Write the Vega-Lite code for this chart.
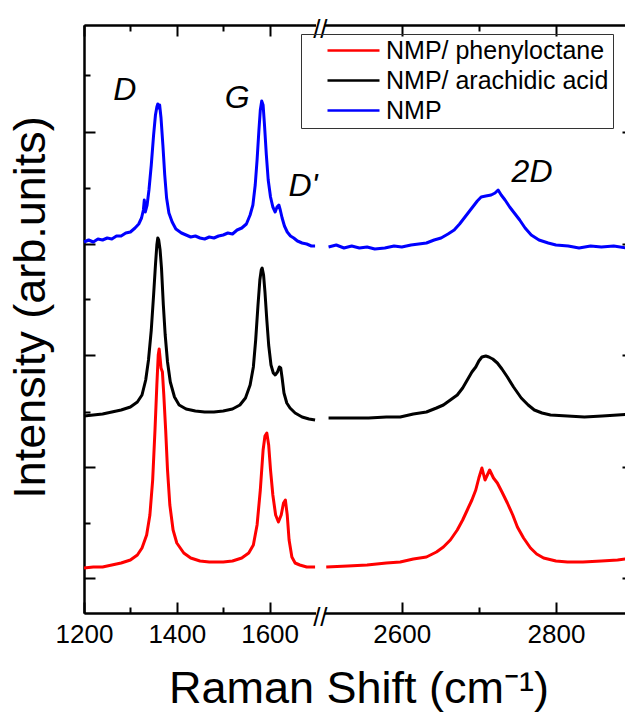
{
"$schema": "https://vega.github.io/schema/vega-lite/v6.json",
"width": 549, "height": 588,
"autosize": {"type": "none"},
"padding": {"left": 84, "top": 25, "right": -8, "bottom": 107},
"config": {
 "view": {"stroke": null},
 "font": "Liberation Sans",
 "axis": {"domainColor": "black", "domainWidth": 2, "tickColor": "black", "tickWidth": 2, "labelColor": "black", "titleColor": "black", "titleFontWeight": "normal", "grid": false, "labelFont": "Liberation Sans", "titleFont": "Liberation Sans", "labelFlush": false, "labelOverlap": false, "labelBound": false, "format": "d"}
},
"datasets": {
 "spec": [
 {"s":"NMP/ phenyloctane","g":"L","x":1200,"y":45},{"s":"NMP/ phenyloctane","g":"L","x":1220,"y":46},{"s":"NMP/ phenyloctane","g":"L","x":1240,"y":46},{"s":"NMP/ phenyloctane","g":"L","x":1260,"y":48},{"s":"NMP/ phenyloctane","g":"L","x":1280,"y":50},{"s":"NMP/ phenyloctane","g":"L","x":1300,"y":53},{"s":"NMP/ phenyloctane","g":"L","x":1315,"y":58},{"s":"NMP/ phenyloctane","g":"L","x":1325,"y":65},{"s":"NMP/ phenyloctane","g":"L","x":1335,"y":78},{"s":"NMP/ phenyloctane","g":"L","x":1342,"y":98},{"s":"NMP/ phenyloctane","g":"L","x":1348,"y":133},{"s":"NMP/ phenyloctane","g":"L","x":1353,"y":183},{"s":"NMP/ phenyloctane","g":"L","x":1357,"y":228},{"s":"NMP/ phenyloctane","g":"L","x":1360,"y":258},{"s":"NMP/ phenyloctane","g":"L","x":1362,"y":264},{"s":"NMP/ phenyloctane","g":"L","x":1364,"y":255},{"s":"NMP/ phenyloctane","g":"L","x":1366,"y":245},{"s":"NMP/ phenyloctane","g":"L","x":1369,"y":241},{"s":"NMP/ phenyloctane","g":"L","x":1372,"y":218},{"s":"NMP/ phenyloctane","g":"L","x":1376,"y":183},{"s":"NMP/ phenyloctane","g":"L","x":1380,"y":143},{"s":"NMP/ phenyloctane","g":"L","x":1385,"y":108},{"s":"NMP/ phenyloctane","g":"L","x":1392,"y":83},{"s":"NMP/ phenyloctane","g":"L","x":1400,"y":70},{"s":"NMP/ phenyloctane","g":"L","x":1415,"y":60},{"s":"NMP/ phenyloctane","g":"L","x":1430,"y":55},{"s":"NMP/ phenyloctane","g":"L","x":1450,"y":52},{"s":"NMP/ phenyloctane","g":"L","x":1470,"y":51},{"s":"NMP/ phenyloctane","g":"L","x":1500,"y":51},{"s":"NMP/ phenyloctane","g":"L","x":1520,"y":52},{"s":"NMP/ phenyloctane","g":"L","x":1540,"y":55},{"s":"NMP/ phenyloctane","g":"L","x":1555,"y":60},{"s":"NMP/ phenyloctane","g":"L","x":1565,"y":68},{"s":"NMP/ phenyloctane","g":"L","x":1573,"y":88},{"s":"NMP/ phenyloctane","g":"L","x":1580,"y":123},{"s":"NMP/ phenyloctane","g":"L","x":1586,"y":163},{"s":"NMP/ phenyloctane","g":"L","x":1590,"y":177},{"s":"NMP/ phenyloctane","g":"L","x":1594,"y":180},{"s":"NMP/ phenyloctane","g":"L","x":1598,"y":168},{"s":"NMP/ phenyloctane","g":"L","x":1602,"y":143},{"s":"NMP/ phenyloctane","g":"L","x":1607,"y":118},{"s":"NMP/ phenyloctane","g":"L","x":1613,"y":98},{"s":"NMP/ phenyloctane","g":"L","x":1619,"y":91},{"s":"NMP/ phenyloctane","g":"L","x":1625,"y":98},{"s":"NMP/ phenyloctane","g":"L","x":1630,"y":110},{"s":"NMP/ phenyloctane","g":"L","x":1634,"y":113},{"s":"NMP/ phenyloctane","g":"L","x":1638,"y":98},{"s":"NMP/ phenyloctane","g":"L","x":1642,"y":73},{"s":"NMP/ phenyloctane","g":"L","x":1648,"y":56},{"s":"NMP/ phenyloctane","g":"L","x":1655,"y":50},{"s":"NMP/ phenyloctane","g":"L","x":1665,"y":48},{"s":"NMP/ phenyloctane","g":"L","x":1680,"y":46},{"s":"NMP/ phenyloctane","g":"L","x":1698,"y":46},
 {"s":"NMP/ phenyloctane","g":"R","x":2502,"y":46},{"s":"NMP/ phenyloctane","g":"R","x":2530,"y":47},{"s":"NMP/ phenyloctane","g":"R","x":2555,"y":48},{"s":"NMP/ phenyloctane","g":"R","x":2580,"y":50},{"s":"NMP/ phenyloctane","g":"R","x":2598,"y":51},{"s":"NMP/ phenyloctane","g":"R","x":2615,"y":54},{"s":"NMP/ phenyloctane","g":"R","x":2632,"y":56},{"s":"NMP/ phenyloctane","g":"R","x":2645,"y":61},{"s":"NMP/ phenyloctane","g":"R","x":2654,"y":66},{"s":"NMP/ phenyloctane","g":"R","x":2663,"y":73},{"s":"NMP/ phenyloctane","g":"R","x":2672,"y":83},{"s":"NMP/ phenyloctane","g":"R","x":2679,"y":93},{"s":"NMP/ phenyloctane","g":"R","x":2685,"y":103},{"s":"NMP/ phenyloctane","g":"R","x":2691,"y":113},{"s":"NMP/ phenyloctane","g":"R","x":2696,"y":123},{"s":"NMP/ phenyloctane","g":"R","x":2700,"y":135},{"s":"NMP/ phenyloctane","g":"R","x":2704,"y":145},{"s":"NMP/ phenyloctane","g":"R","x":2708,"y":133},{"s":"NMP/ phenyloctane","g":"R","x":2711,"y":138},{"s":"NMP/ phenyloctane","g":"R","x":2714,"y":143},{"s":"NMP/ phenyloctane","g":"R","x":2719,"y":135},{"s":"NMP/ phenyloctane","g":"R","x":2724,"y":130},{"s":"NMP/ phenyloctane","g":"R","x":2730,"y":121},{"s":"NMP/ phenyloctane","g":"R","x":2737,"y":110},{"s":"NMP/ phenyloctane","g":"R","x":2744,"y":98},{"s":"NMP/ phenyloctane","g":"R","x":2750,"y":86},{"s":"NMP/ phenyloctane","g":"R","x":2758,"y":75},{"s":"NMP/ phenyloctane","g":"R","x":2767,"y":65},{"s":"NMP/ phenyloctane","g":"R","x":2775,"y":59},{"s":"NMP/ phenyloctane","g":"R","x":2784,"y":55},{"s":"NMP/ phenyloctane","g":"R","x":2800,"y":52},{"s":"NMP/ phenyloctane","g":"R","x":2815,"y":51},{"s":"NMP/ phenyloctane","g":"R","x":2835,"y":51},{"s":"NMP/ phenyloctane","g":"R","x":2859,"y":52},{"s":"NMP/ phenyloctane","g":"R","x":2880,"y":53},{"s":"NMP/ phenyloctane","g":"R","x":2900,"y":55},
 {"s":"NMP/ arachidic acid","g":"L","x":1200,"y":197},{"s":"NMP/ arachidic acid","g":"L","x":1220,"y":198},{"s":"NMP/ arachidic acid","g":"L","x":1240,"y":199},{"s":"NMP/ arachidic acid","g":"L","x":1260,"y":201},{"s":"NMP/ arachidic acid","g":"L","x":1280,"y":203},{"s":"NMP/ arachidic acid","g":"L","x":1300,"y":206},{"s":"NMP/ arachidic acid","g":"L","x":1315,"y":211},{"s":"NMP/ arachidic acid","g":"L","x":1325,"y":218},{"s":"NMP/ arachidic acid","g":"L","x":1333,"y":233},{"s":"NMP/ arachidic acid","g":"L","x":1339,"y":253},{"s":"NMP/ arachidic acid","g":"L","x":1345,"y":283},{"s":"NMP/ arachidic acid","g":"L","x":1350,"y":318},{"s":"NMP/ arachidic acid","g":"L","x":1354,"y":348},{"s":"NMP/ arachidic acid","g":"L","x":1357,"y":368},{"s":"NMP/ arachidic acid","g":"L","x":1359,"y":375},{"s":"NMP/ arachidic acid","g":"L","x":1361,"y":373},{"s":"NMP/ arachidic acid","g":"L","x":1364,"y":363},{"s":"NMP/ arachidic acid","g":"L","x":1367,"y":345},{"s":"NMP/ arachidic acid","g":"L","x":1371,"y":308},{"s":"NMP/ arachidic acid","g":"L","x":1375,"y":278},{"s":"NMP/ arachidic acid","g":"L","x":1380,"y":251},{"s":"NMP/ arachidic acid","g":"L","x":1386,"y":231},{"s":"NMP/ arachidic acid","g":"L","x":1395,"y":216},{"s":"NMP/ arachidic acid","g":"L","x":1405,"y":208},{"s":"NMP/ arachidic acid","g":"L","x":1420,"y":204},{"s":"NMP/ arachidic acid","g":"L","x":1440,"y":202},{"s":"NMP/ arachidic acid","g":"L","x":1460,"y":201},{"s":"NMP/ arachidic acid","g":"L","x":1480,"y":201},{"s":"NMP/ arachidic acid","g":"L","x":1500,"y":202},{"s":"NMP/ arachidic acid","g":"L","x":1520,"y":204},{"s":"NMP/ arachidic acid","g":"L","x":1536,"y":208},{"s":"NMP/ arachidic acid","g":"L","x":1548,"y":215},{"s":"NMP/ arachidic acid","g":"L","x":1558,"y":228},{"s":"NMP/ arachidic acid","g":"L","x":1565,"y":246},{"s":"NMP/ arachidic acid","g":"L","x":1570,"y":273},{"s":"NMP/ arachidic acid","g":"L","x":1575,"y":308},{"s":"NMP/ arachidic acid","g":"L","x":1579,"y":333},{"s":"NMP/ arachidic acid","g":"L","x":1582,"y":343},{"s":"NMP/ arachidic acid","g":"L","x":1584,"y":345},{"s":"NMP/ arachidic acid","g":"L","x":1587,"y":338},{"s":"NMP/ arachidic acid","g":"L","x":1590,"y":321},{"s":"NMP/ arachidic acid","g":"L","x":1594,"y":293},{"s":"NMP/ arachidic acid","g":"L","x":1598,"y":268},{"s":"NMP/ arachidic acid","g":"L","x":1603,"y":248},{"s":"NMP/ arachidic acid","g":"L","x":1608,"y":240},{"s":"NMP/ arachidic acid","g":"L","x":1612,"y":238},{"s":"NMP/ arachidic acid","g":"L","x":1617,"y":241},{"s":"NMP/ arachidic acid","g":"L","x":1621,"y":246},{"s":"NMP/ arachidic acid","g":"L","x":1624,"y":245},{"s":"NMP/ arachidic acid","g":"L","x":1627,"y":235},{"s":"NMP/ arachidic acid","g":"L","x":1631,"y":220},{"s":"NMP/ arachidic acid","g":"L","x":1637,"y":210},{"s":"NMP/ arachidic acid","g":"L","x":1644,"y":205},{"s":"NMP/ arachidic acid","g":"L","x":1655,"y":200},{"s":"NMP/ arachidic acid","g":"L","x":1670,"y":196},{"s":"NMP/ arachidic acid","g":"L","x":1685,"y":194},{"s":"NMP/ arachidic acid","g":"L","x":1698,"y":193},
 {"s":"NMP/ arachidic acid","g":"R","x":2505,"y":195},{"s":"NMP/ arachidic acid","g":"R","x":2530,"y":195},{"s":"NMP/ arachidic acid","g":"R","x":2557,"y":195},{"s":"NMP/ arachidic acid","g":"R","x":2580,"y":196},{"s":"NMP/ arachidic acid","g":"R","x":2598,"y":196},{"s":"NMP/ arachidic acid","g":"R","x":2615,"y":199},{"s":"NMP/ arachidic acid","g":"R","x":2632,"y":201},{"s":"NMP/ arachidic acid","g":"R","x":2645,"y":205},{"s":"NMP/ arachidic acid","g":"R","x":2654,"y":208},{"s":"NMP/ arachidic acid","g":"R","x":2663,"y":213},{"s":"NMP/ arachidic acid","g":"R","x":2672,"y":218},{"s":"NMP/ arachidic acid","g":"R","x":2679,"y":225},{"s":"NMP/ arachidic acid","g":"R","x":2685,"y":233},{"s":"NMP/ arachidic acid","g":"R","x":2691,"y":241},{"s":"NMP/ arachidic acid","g":"R","x":2696,"y":246},{"s":"NMP/ arachidic acid","g":"R","x":2700,"y":252},{"s":"NMP/ arachidic acid","g":"R","x":2704,"y":256},{"s":"NMP/ arachidic acid","g":"R","x":2709,"y":257},{"s":"NMP/ arachidic acid","g":"R","x":2713,"y":256},{"s":"NMP/ arachidic acid","g":"R","x":2718,"y":254},{"s":"NMP/ arachidic acid","g":"R","x":2724,"y":250},{"s":"NMP/ arachidic acid","g":"R","x":2730,"y":244},{"s":"NMP/ arachidic acid","g":"R","x":2737,"y":236},{"s":"NMP/ arachidic acid","g":"R","x":2745,"y":226},{"s":"NMP/ arachidic acid","g":"R","x":2755,"y":215},{"s":"NMP/ arachidic acid","g":"R","x":2764,"y":208},{"s":"NMP/ arachidic acid","g":"R","x":2772,"y":203},{"s":"NMP/ arachidic acid","g":"R","x":2782,"y":200},{"s":"NMP/ arachidic acid","g":"R","x":2793,"y":198},{"s":"NMP/ arachidic acid","g":"R","x":2815,"y":197},{"s":"NMP/ arachidic acid","g":"R","x":2837,"y":196},{"s":"NMP/ arachidic acid","g":"R","x":2860,"y":197},{"s":"NMP/ arachidic acid","g":"R","x":2880,"y":198},{"s":"NMP/ arachidic acid","g":"R","x":2900,"y":199},
 {"s":"NMP","g":"L","x":1200,"y":371},{"s":"NMP","g":"L","x":1210,"y":373},{"s":"NMP","g":"L","x":1220,"y":371},{"s":"NMP","g":"L","x":1230,"y":374},{"s":"NMP","g":"L","x":1240,"y":373},{"s":"NMP","g":"L","x":1250,"y":375},{"s":"NMP","g":"L","x":1260,"y":374},{"s":"NMP","g":"L","x":1270,"y":377},{"s":"NMP","g":"L","x":1280,"y":377},{"s":"NMP","g":"L","x":1290,"y":380},{"s":"NMP","g":"L","x":1300,"y":381},{"s":"NMP","g":"L","x":1310,"y":385},{"s":"NMP","g":"L","x":1318,"y":389},{"s":"NMP","g":"L","x":1324,"y":395},{"s":"NMP","g":"L","x":1328,"y":403},{"s":"NMP","g":"L","x":1330,"y":413},{"s":"NMP","g":"L","x":1332,"y":401},{"s":"NMP","g":"L","x":1336,"y":408},{"s":"NMP","g":"L","x":1340,"y":423},{"s":"NMP","g":"L","x":1345,"y":448},{"s":"NMP","g":"L","x":1350,"y":478},{"s":"NMP","g":"L","x":1354,"y":498},{"s":"NMP","g":"L","x":1357,"y":506},{"s":"NMP","g":"L","x":1359,"y":509},{"s":"NMP","g":"L","x":1361,"y":505},{"s":"NMP","g":"L","x":1363,"y":508},{"s":"NMP","g":"L","x":1366,"y":495},{"s":"NMP","g":"L","x":1370,"y":468},{"s":"NMP","g":"L","x":1374,"y":438},{"s":"NMP","g":"L","x":1378,"y":415},{"s":"NMP","g":"L","x":1383,"y":400},{"s":"NMP","g":"L","x":1390,"y":391},{"s":"NMP","g":"L","x":1398,"y":384},{"s":"NMP","g":"L","x":1410,"y":380},{"s":"NMP","g":"L","x":1420,"y":378},{"s":"NMP","g":"L","x":1430,"y":376},{"s":"NMP","g":"L","x":1440,"y":377},{"s":"NMP","g":"L","x":1450,"y":375},{"s":"NMP","g":"L","x":1460,"y":374},{"s":"NMP","g":"L","x":1470,"y":376},{"s":"NMP","g":"L","x":1480,"y":375},{"s":"NMP","g":"L","x":1490,"y":377},{"s":"NMP","g":"L","x":1500,"y":378},{"s":"NMP","g":"L","x":1510,"y":380},{"s":"NMP","g":"L","x":1520,"y":379},{"s":"NMP","g":"L","x":1530,"y":383},{"s":"NMP","g":"L","x":1540,"y":385},{"s":"NMP","g":"L","x":1550,"y":389},{"s":"NMP","g":"L","x":1558,"y":398},{"s":"NMP","g":"L","x":1564,"y":408},{"s":"NMP","g":"L","x":1569,"y":428},{"s":"NMP","g":"L","x":1573,"y":453},{"s":"NMP","g":"L","x":1577,"y":483},{"s":"NMP","g":"L","x":1580,"y":503},{"s":"NMP","g":"L","x":1583,"y":512},{"s":"NMP","g":"L","x":1586,"y":508},{"s":"NMP","g":"L","x":1589,"y":488},{"s":"NMP","g":"L","x":1593,"y":458},{"s":"NMP","g":"L","x":1597,"y":433},{"s":"NMP","g":"L","x":1602,"y":416},{"s":"NMP","g":"L","x":1607,"y":406},{"s":"NMP","g":"L","x":1612,"y":401},{"s":"NMP","g":"L","x":1616,"y":406},{"s":"NMP","g":"L","x":1620,"y":408},{"s":"NMP","g":"L","x":1623,"y":403},{"s":"NMP","g":"L","x":1627,"y":395},{"s":"NMP","g":"L","x":1632,"y":387},{"s":"NMP","g":"L","x":1638,"y":381},{"s":"NMP","g":"L","x":1645,"y":377},{"s":"NMP","g":"L","x":1652,"y":375},{"s":"NMP","g":"L","x":1660,"y":372},{"s":"NMP","g":"L","x":1670,"y":370},{"s":"NMP","g":"L","x":1680,"y":369},{"s":"NMP","g":"L","x":1690,"y":367},{"s":"NMP","g":"L","x":1698,"y":367},
 {"s":"NMP","g":"R","x":2505,"y":366},{"s":"NMP","g":"R","x":2515,"y":368},{"s":"NMP","g":"R","x":2525,"y":365},{"s":"NMP","g":"R","x":2535,"y":367},{"s":"NMP","g":"R","x":2545,"y":365},{"s":"NMP","g":"R","x":2555,"y":366},{"s":"NMP","g":"R","x":2565,"y":364},{"s":"NMP","g":"R","x":2578,"y":365},{"s":"NMP","g":"R","x":2590,"y":367},{"s":"NMP","g":"R","x":2600,"y":366},{"s":"NMP","g":"R","x":2612,"y":368},{"s":"NMP","g":"R","x":2622,"y":369},{"s":"NMP","g":"R","x":2632,"y":370},{"s":"NMP","g":"R","x":2642,"y":373},{"s":"NMP","g":"R","x":2651,"y":375},{"s":"NMP","g":"R","x":2660,"y":379},{"s":"NMP","g":"R","x":2668,"y":383},{"s":"NMP","g":"R","x":2675,"y":389},{"s":"NMP","g":"R","x":2681,"y":395},{"s":"NMP","g":"R","x":2687,"y":401},{"s":"NMP","g":"R","x":2692,"y":406},{"s":"NMP","g":"R","x":2698,"y":412},{"s":"NMP","g":"R","x":2703,"y":416},{"s":"NMP","g":"R","x":2709,"y":417},{"s":"NMP","g":"R","x":2716,"y":418},{"s":"NMP","g":"R","x":2721,"y":420},{"s":"NMP","g":"R","x":2725,"y":423},{"s":"NMP","g":"R","x":2729,"y":418},{"s":"NMP","g":"R","x":2734,"y":413},{"s":"NMP","g":"R","x":2740,"y":406},{"s":"NMP","g":"R","x":2747,"y":399},{"s":"NMP","g":"R","x":2753,"y":393},{"s":"NMP","g":"R","x":2760,"y":385},{"s":"NMP","g":"R","x":2768,"y":378},{"s":"NMP","g":"R","x":2778,"y":373},{"s":"NMP","g":"R","x":2790,"y":370},{"s":"NMP","g":"R","x":2800,"y":368},{"s":"NMP","g":"R","x":2816,"y":367},{"s":"NMP","g":"R","x":2830,"y":365},{"s":"NMP","g":"R","x":2845,"y":367},{"s":"NMP","g":"R","x":2859,"y":366},{"s":"NMP","g":"R","x":2875,"y":367},{"s":"NMP","g":"R","x":2892,"y":365},{"s":"NMP","g":"R","x":2900,"y":366}
 ]
},
"layer": [
 {
  "data": {"values": [{"x": 1200, "y": 0}]},
  "mark": {"type": "point", "opacity": 0},
  "encoding": {
   "x": {"field": "x", "type": "quantitative", "scale": {"domain": [1200, 1700, 2500, 2900], "range": [0, 232, 240.7, 549], "nice": false, "zero": false}, "axis": {"orient": "top", "values": [1200, 1400, 1600, 2600, 2800], "tickSize": -11, "labels": false, "title": null}},
   "y": {"field": "y", "type": "quantitative", "scale": {"domain": [0, 588], "nice": false, "zero": false}, "axis": {"orient": "right", "values": [35, 146.5, 258, 369.5, 481], "tickSize": -11, "labels": false, "title": null}}
  }
 },
 {
  "data": {"values": [{"x": 1200, "y": 0}]},
  "mark": {"type": "point", "opacity": 0},
  "encoding": {
   "x": {"field": "x", "type": "quantitative", "scale": {"domain": [1200, 1700, 2500, 2900], "range": [0, 232, 240.7, 549], "nice": false, "zero": false}, "axis": {"orient": "bottom", "values": [1300, 1500, 2700], "tickSize": -6, "labels": false, "title": null}},
   "y": {"field": "y", "type": "quantitative", "scale": {"domain": [0, 588], "nice": false, "zero": false}, "axis": {"orient": "left", "values": [90, 201, 314, 425, 538], "tickSize": -6, "labels": false, "title": null}}
  }
 },
 {
  "data": {"values": [{"x": 1200, "y": 0}]},
  "mark": {"type": "point", "opacity": 0},
  "encoding": {
   "x": {"field": "x", "type": "quantitative", "scale": {"domain": [1200, 1700, 2500, 2900], "range": [0, 232, 240.7, 549], "nice": false, "zero": false}, "axis": {"orient": "top", "values": [1300, 1500, 2700], "tickSize": -6, "labels": false, "title": null}},
   "y": {"field": "y", "type": "quantitative", "scale": {"domain": [0, 588], "nice": false, "zero": false}, "axis": {"orient": "right", "values": [90, 201, 314, 425, 538], "tickSize": -6, "labels": false, "title": null}}
  }
 },
 {
  "data": {"values": [{"x": 1700, "x2": 2500, "y": 578, "y2": 598}, {"x": 1700, "x2": 2500, "y": -10, "y2": 10}]},
  "mark": {"type": "rect", "fill": "white"},
  "encoding": {
   "x": {"field": "x", "type": "quantitative", "scale": {"domain": [1200, 1700, 2500, 2900], "range": [0, 232, 240.7, 549], "nice": false, "zero": false}, "axis": null},
   "x2": {"field": "x2"},
   "y": {"field": "y", "type": "quantitative", "scale": {"domain": [0, 588], "nice": false, "zero": false}, "axis": null},
   "y2": {"field": "y2"}
  }
 },
 {
  "data": {"values": [{"x": 2100, "y": 588, "t": "//"}, {"x": 2100, "y": 0, "t": "//"}]},
  "mark": {"type": "text", "fontSize": 26, "font": "Liberation Sans", "color": "black", "align": "center", "baseline": "middle", "dy": 5},
  "encoding": {
   "x": {"field": "x", "type": "quantitative", "scale": {"domain": [1200, 1700, 2500, 2900], "range": [0, 232, 240.7, 549], "nice": false, "zero": false}, "axis": null},
   "y": {"field": "y", "type": "quantitative", "scale": {"domain": [0, 588], "nice": false, "zero": false}, "axis": null},
   "text": {"field": "t"}
  }
 },
 {
  "data": {"name": "spec"},
  "mark": {"type": "line", "strokeWidth": 3, "strokeJoin": "round"},
  "encoding": {
   "x": {"field": "x", "type": "quantitative", "scale": {"domain": [1200, 1700, 2500, 2900], "range": [0, 232, 240.7, 549], "nice": false, "zero": false}, "axis": {"orient": "bottom", "values": [1200, 1400, 1600, 2600, 2800], "tickSize": -11, "labelFontSize": 26, "labelPadding": 19, "title": "Raman Shift (cm⁻¹)", "titleFontSize": 45, "titlePadding": 19}},
   "y": {"field": "y", "type": "quantitative", "scale": {"domain": [0, 588], "nice": false, "zero": false}, "axis": {"orient": "left", "values": [35, 146.5, 258, 369.5, 481], "tickSize": -11, "labels": false, "title": "Intensity (arb.units)", "titleFontSize": 45, "titlePadding": 30, "titleY": 282}},
   "color": {"field": "s", "type": "nominal", "scale": {"domain": ["NMP/ phenyloctane", "NMP/ arachidic acid", "NMP"], "range": ["#ff0000", "#000000", "#0000ff"]},
    "legend": {"orient": "none", "legendX": 217, "legendY": 9, "title": null, "symbolType": "M-2.6,0H2.6", "symbolStrokeWidth": 2.5, "symbolSize": 400, "labelFontSize": 25, "labelFont": "Liberation Sans", "labelColor": "black", "labelLimit": 0, "strokeColor": "#333333", "padding": 4, "symbolOffset": 36, "labelOffset": 20, "rowPadding": 4}},
   "detail": {"field": "g"}
  }
 },
 {
  "data": {"values": [{"t": "D", "x": 1288, "y": 523}, {"t": "G", "x": 1530, "y": 515}, {"t": "D'", "x": 1672, "y": 427}, {"t": "2D", "x": 2769, "y": 441}]},
  "mark": {"type": "text", "fontSize": 32, "fontStyle": "italic", "font": "Liberation Sans", "color": "black", "align": "center", "baseline": "middle"},
  "encoding": {
   "x": {"field": "x", "type": "quantitative", "scale": {"domain": [1200, 1700, 2500, 2900], "range": [0, 232, 240.7, 549], "nice": false, "zero": false}, "axis": null},
   "y": {"field": "y", "type": "quantitative", "scale": {"domain": [0, 588], "nice": false, "zero": false}, "axis": null},
   "text": {"field": "t"}
  }
 }
],
"resolve": {"axis": {"x": "independent", "y": "independent"}}
}
